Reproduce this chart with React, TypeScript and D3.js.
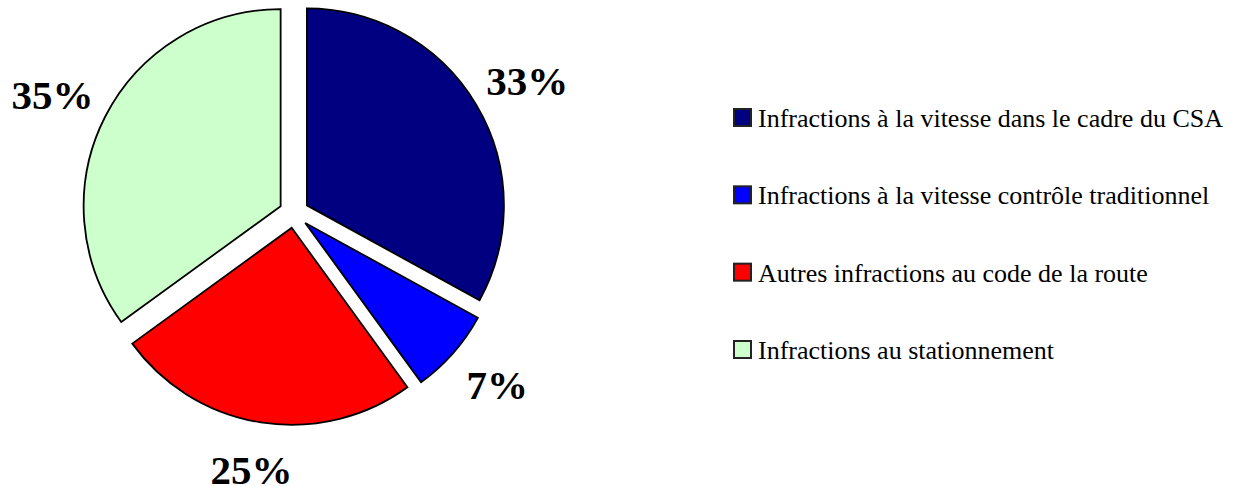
import { useEffect, useRef } from "react";
import * as d3 from "d3";

// data
const categories = [
  "Infractions à la vitesse dans le cadre du CSA",
  "Infractions à la vitesse contrôle traditionnel",
  "Autres infractions au code de la route",
  "Infractions au stationnement",
];
const values = [33, 7, 25, 35];
const colors = ["#000080", "#0000FF", "#FF0000", "#CCFFCC"];

export default function App() {
  const ref = useRef<SVGSVGElement>(null);

  useEffect(() => {
    if (!ref.current) return;
    const svg = d3.select(ref.current);
    svg.selectAll("*").remove();

    const W = 1252;
    const H = 486;
    const cx = 294;
    const cy = 213;
    const r = 197;
    const explode = 15;
    const labelRx = 271;
    const labelRy = 260;

    const data = categories.map((c, i) => ({ label: c, value: values[i], color: colors[i] }));
    const pie = d3
      .pie<(typeof data)[number]>()
      .sort(null)
      .value((d) => d.value);
    const arcs = pie(data);
    const arc = d3
      .arc<d3.PieArcDatum<(typeof data)[number]>>()
      .innerRadius(0)
      .outerRadius(r);

    const g = svg.append("g").attr("transform", `translate(${cx},${cy})`);

    // slices
    g.selectAll("path")
      .data(arcs)
      .join("path")
      .attr("d", arc)
      .attr("transform", (d) => {
        const a = (d.startAngle + d.endAngle) / 2;
        return `translate(${Math.sin(a) * explode},${-Math.cos(a) * explode})`;
      })
      .attr("fill", (d) => d.data.color)
      .attr("stroke", "#000")
      .attr("stroke-width", 1.8);

    // percentage labels
    const total = d3.sum(values);
    g.selectAll("text.pct")
      .data(arcs)
      .join("text")
      .attr("class", "pct")
      .attr("x", (d) => Math.sin((d.startAngle + d.endAngle) / 2) * labelRx)
      .attr("y", (d) => -Math.cos((d.startAngle + d.endAngle) / 2) * labelRy + 14)
      .attr("text-anchor", "middle")
      .attr("font-family", "'Liberation Serif', 'Times New Roman', serif")
      .attr("font-weight", "bold")
      .attr("font-size", 41)
      .attr("fill", "#000")
      .text((d) => `${Math.round((d.data.value / total) * 100)}%`);

    // legend
    const leg = svg.append("g").attr("transform", "translate(734,0)");
    const rowY = d3.scaleLinear().domain([0, 3]).range([127, 359]);
    data.forEach((d, i) => {
      leg
        .append("rect")
        .attr("x", 0)
        .attr("y", rowY(i) - 18)
        .attr("width", 17)
        .attr("height", 17)
        .attr("fill", d.color)
        .attr("stroke", "#222")
        .attr("stroke-width", 2);
      leg
        .append("text")
        .attr("x", 24)
        .attr("y", rowY(i))
        .attr("font-family", "'Liberation Serif', 'Times New Roman', serif")
        .attr("font-size", 26)
        .attr("fill", "#000")
        .text(d.label);
    });

    svg.attr("width", W).attr("height", H);
  }, []);

  return (
    <svg
      ref={ref}
      style={{ position: "absolute", left: 0, top: 0, background: "#fff" }}
    />
  );
}
